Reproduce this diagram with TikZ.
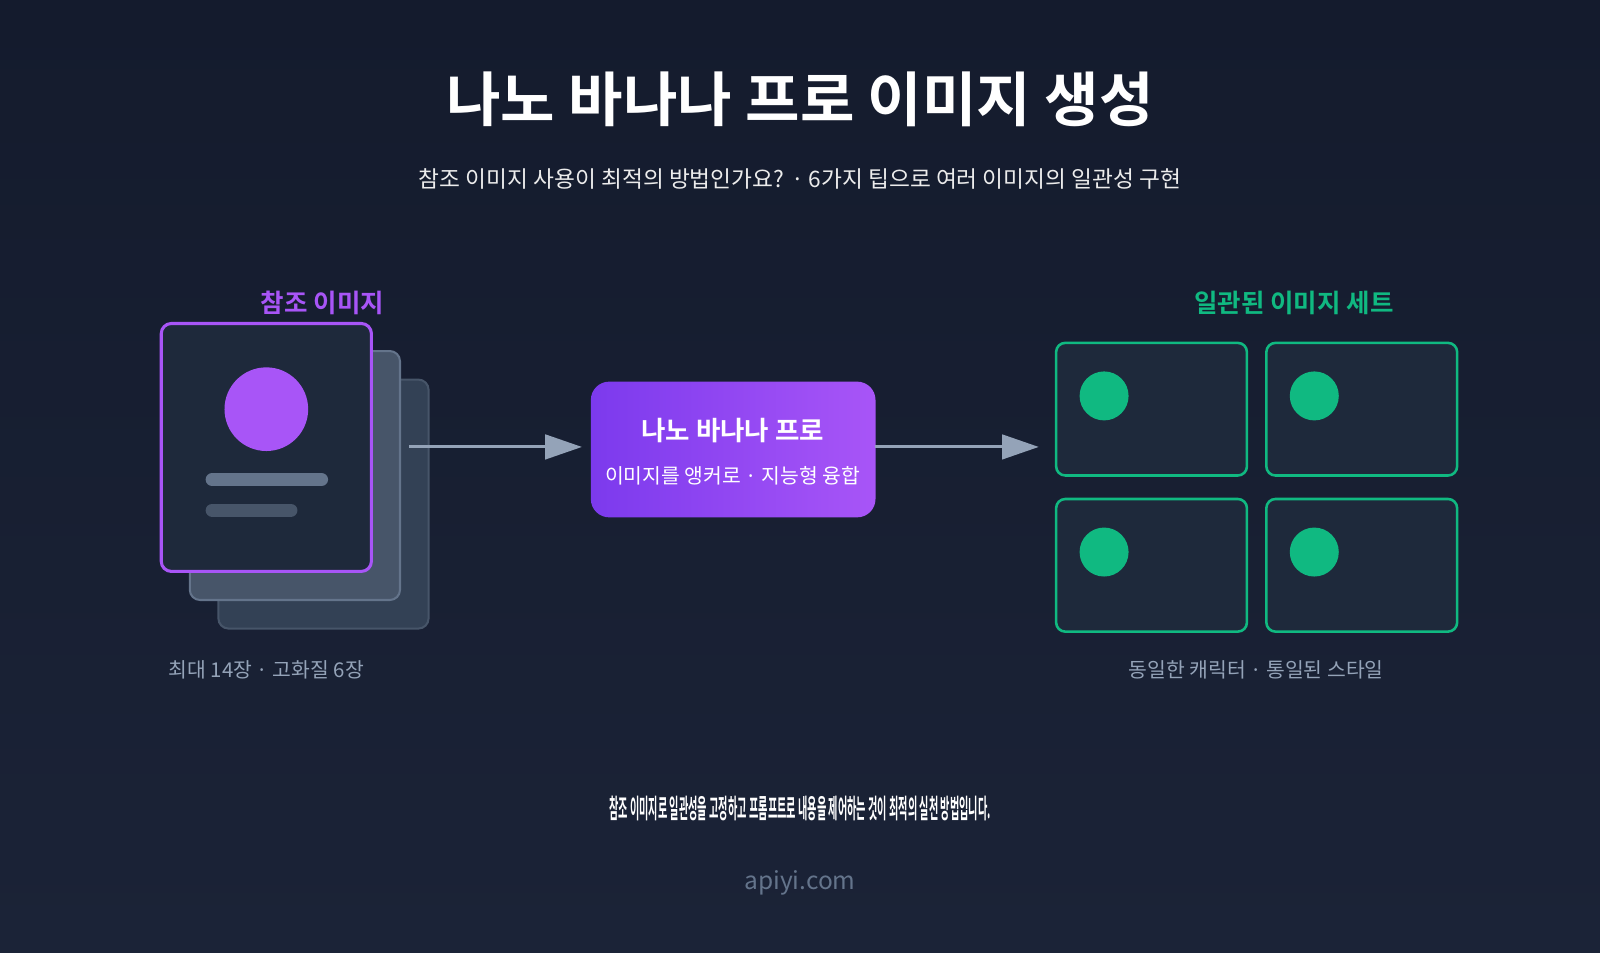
\documentclass[tikz,border=0pt]{standalone}
\usepackage{fontspec}
\setmainfont{Noto Sans CJK KR}[BoldFont={* Bold}]
\usetikzlibrary{arrows.meta}
\definecolor{bgA}{HTML}{141B2D}\definecolor{bgB}{HTML}{1B2337}
\definecolor{card}{HTML}{1E293B}\definecolor{purp}{HTML}{A855F7}\definecolor{purpD}{HTML}{7C3AED}
\definecolor{grn}{HTML}{10B981}\definecolor{gry}{HTML}{94A3B8}\definecolor{gryD}{HTML}{64748B}
\definecolor{sl}{HTML}{475569}\definecolor{slD}{HTML}{334155}
\tikzset{
 txt/.style={text=#1,inner sep=0pt,anchor=center},
 arr/.style={draw=gry,line width=3pt,-{Triangle[length=36pt,width=24pt]}},
 gcard/.style={draw=grn,line width=2.5pt,fill=card,rounded corners=9pt},
}
\begin{document}
\begin{tikzpicture}[x=1pt,y=-1pt]
\useasboundingbox (0,0) rectangle (1568,933);
\shade[top color=bgA,bottom color=bgB] (0,0) rectangle (1568,933);
\node[txt=white,font=\fontsize{58}{60}\bfseries\selectfont] (title) at (784,97) {나노 바나나 프로 이미지 생성};
\node[txt={white!85!gray}] (sub) at (784,175) {\resizebox{747pt}{!}{\fontsize{26}{28}\selectfont 참조 이미지 사용이 최적의 방법인가요? · 6가지 팁으로 여러 이미지의 일관성 구현}};
\node[txt=purp,font=\fontsize{25}{27}\bfseries\selectfont] (lref) at (316,297) {참조 이미지};
\draw[sl,line width=2pt,fill=slD,rounded corners=10pt] (214,372) rectangle (420,616);
\draw[gryD,line width=2pt,fill=sl,rounded corners=10pt] (186,344) rectangle (392,588);
\draw[purp,line width=3pt,fill=card,rounded corners=10pt] (158,317) rectangle (364,560);
\fill[purp] (261,401) circle (41);
\draw[gryD,line width=13pt,line cap=round] (208,470) -- (315,470);
\draw[sl,line width=13pt,line cap=round] (208,500) -- (285,500);
\node[txt=gry,font=\fontsize{20}{22}\selectfont] (cap1) at (261,656) {최대 14장 · 고화질 6장};
\shade[left color=purpD,right color=purp,rounded corners=18pt] (579,374) rectangle (858,507);
\node (box) at (718,438) [minimum width=279pt,minimum height=133pt,inner sep=0pt] {};
\node[txt=white,font=\fontsize{26}{28}\bfseries\selectfont] (bt) at (718,422) {나노 바나나 프로};
\node[txt=white,font=\fontsize{20}{22}\selectfont] (bs) at (718,466) {이미지를 앵커로 · 지능형 융합};
\coordinate (a1) at (401,438);
\draw[arr,shorten >=8pt] (a1) -- (box.west);
\coordinate (a2) at (1018,438);
\draw[arr] (box.east) -- (a2);
\node[txt=grn,font=\fontsize{25}{27}\bfseries\selectfont] (lset) at (1268,297) {일관된 이미지 세트};
\foreach \x/\y in {1035/336,1241/336,1035/489,1241/489}{
 \draw[gcard] (\x,\y) rectangle (\x+187,\y+130);
 \fill[grn] (\x+47,\y+52) circle (24);
}
\node[txt=gry,font=\fontsize{20}{22}\selectfont] (cap2) at (1231,656) {동일한 캐릭터 · 통일된 스타일};
\node[txt=white] (foot) at (784,792) {\resizebox{374pt}{22pt}{\fontsize{22}{24}\bfseries\selectfont 참조 이미지로 일관성을 고정하고 프롬프트로 내용을 제어하는 것이 최적의 실천 방법입니다.}};
\node[txt=gryD,font=\fontsize{24}{26}\selectfont] (url) at (784,865) {apiyi.com};
\end{tikzpicture}
\end{document}
